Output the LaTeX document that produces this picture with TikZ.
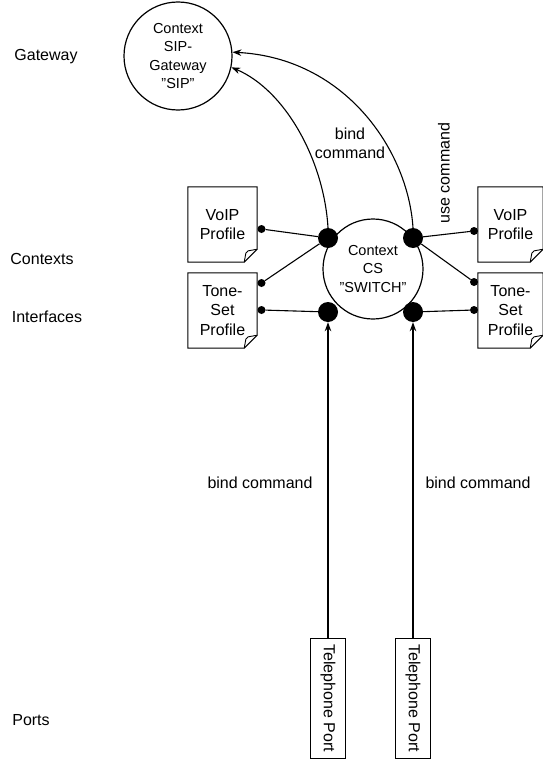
\documentclass[tikz,border=0pt]{standalone}
\usepackage{fontspec}
\setmainfont{Liberation Sans}
\usetikzlibrary{arrows.meta}

\tikzset{
  ctx/.style={circle, draw, line width=1.2pt, minimum size=#1, inner sep=0pt,
              align=center, font=\fontsize{14.5}{18.5}\selectfont},
  bigdot/.style={circle, fill=black, minimum size=20pt, inner sep=0pt},
  smalldot/.style={circle, fill=black, minimum size=8pt, inner sep=0pt},
  profile/.style={minimum width=#1, minimum height=75pt, inner sep=0pt,
                  align=center, font=\fontsize{16}{19.5}\selectfont},
  port/.style={draw, line width=1pt, minimum width=120pt, minimum height=35pt,
               inner sep=0pt, rotate=-90, font=\fontsize{16}{19}\selectfont},
  lbl/.style={font=\fontsize{16}{19}\selectfont, align=center, inner sep=0pt},
  link/.style={line width=1.1pt},
  arr/.style={line width=1.1pt, -{Stealth[length=9pt,width=6.5pt,inset=3pt]}},
}

% straight double quote
\newcommand{\dq}{\symbol{34}}

% draws a note outline with a folded bottom-right corner
\newcommand{\notebox}[1]{%
  \draw[line width=1pt]
    (#1.north west) -- (#1.north east) -- ([yshift=13pt]#1.south east)
    -- ([xshift=-13pt]#1.south east) -- (#1.south west) -- cycle;
  \draw[line width=0.9pt, rounded corners=2pt]
    ([xshift=-13pt]#1.south east) -- ([xshift=-11pt,yshift=11pt]#1.south east)
    -- ([yshift=13pt]#1.south east);
}

\begin{document}
\begin{tikzpicture}[x={(1pt,0pt)}, y={(0pt,-1pt)}]
  \useasboundingbox (0,0) rectangle (543,760);

  % row labels
  \node[lbl] (lgw)  at (46,57)   {Gateway};
  \node[lbl] (lctx) at (42,259)  {Contexts};
  \node[lbl] (lifc) at (47,317)  {Interfaces};
  \node[lbl] (lprt) at (31,720)  {Ports};

  % contexts
  \node[ctx=108pt] (sip) at (178,56)  {Context\\SIP-\\Gateway\\\dq SIP\dq};
  \node[ctx=100pt] (cs)  at (373,269) {Context\\CS\\\dq SWITCH\dq};

  % profiles
  \node[profile=69pt] (lv) at (222.5,224.5) {VoIP\\Profile};
  \node[profile=69pt] (lt) at (222.5,310.5) {Tone-\\Set\\Profile};
  \node[profile=65pt] (rv) at (510.5,224.5) {VoIP\\Profile};
  \node[profile=65pt] (rt) at (510.5,310.5) {Tone-\\Set\\Profile};
  \notebox{lv}
  \notebox{lt}
  \notebox{rv}
  \notebox{rt}

  % interface points on the context
  \node[bigdot] (b1) at (328,238) {};
  \node[bigdot] (b2) at (413,238) {};
  \node[bigdot] (b3) at (328,312) {};
  \node[bigdot] (b4) at (413,312) {};

  % binding points on the profiles
  \node[smalldot] (l1) at (261.5,229) {};
  \node[smalldot] (l2) at (261.5,283) {};
  \node[smalldot] (l3) at (261.5,310) {};
  \node[smalldot] (r1) at (474,231) {};
  \node[smalldot] (r2) at (474,282) {};
  \node[smalldot] (r3) at (474,310) {};

  \draw[link] (b1) -- (l1);
  \draw[link] (b1) -- (l2);
  \draw[link] (b3) -- (l3);
  \draw[link] (b2) -- (r1);
  \draw[link] (b2) -- (r2);
  \draw[link] (b4) -- (r3);

  % telephone ports
  \node[port] (p1) at (328,698) {Telephone Port};
  \node[port] (p2) at (413,698) {Telephone Port};
  \draw[arr] (p1.west) -- (b3.south);
  \draw[arr] (p2.west) -- (b4.south);

  % interfaces bound to the gateway context
  \draw[arr] (b1.north) .. controls (324,160) and (285,90) .. (sip.-12);
  \draw[arr] (b2.north) .. controls (408,150) and (345,58) .. (sip.4);

  % command labels
  \node[lbl] (bc0) at (350,143) {bind\\command};
  \node[lbl, rotate=90] (uc) at (444,173) {use command};
  \node[lbl] (bc1) at (260,483) {bind command};
  \node[lbl] (bc2) at (478,483) {bind command};
\end{tikzpicture}
\end{document}
